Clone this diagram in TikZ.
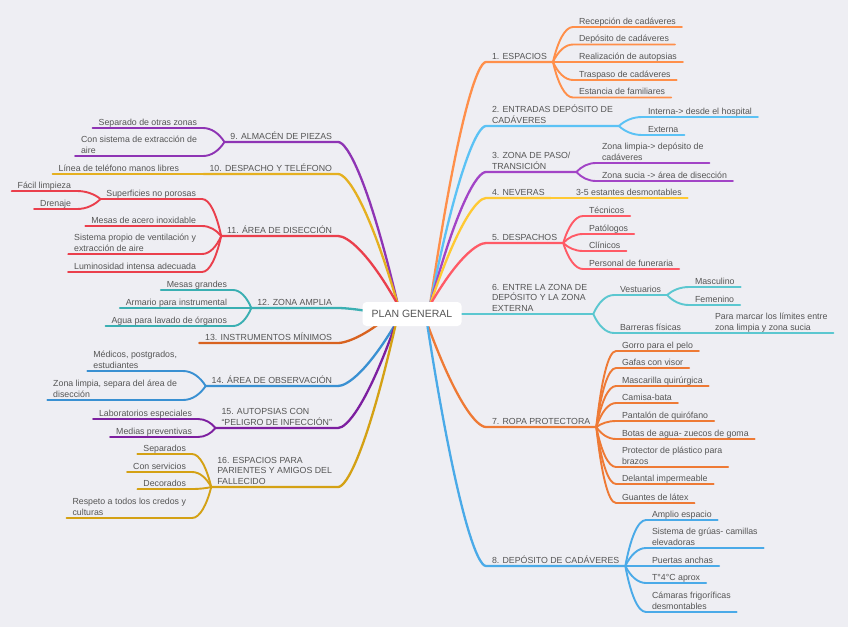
\documentclass[tikz,border=0pt]{standalone}
\usepackage{fontspec}
\setmainfont{Liberation Sans}
\usetikzlibrary{calc,backgrounds}
\definecolor{bg}{HTML}{EEEEF3}
\definecolor{txt}{HTML}{555555}
\definecolor{c1}{HTML}{FF8F4A}
\definecolor{c2}{HTML}{5BC2F5}
\definecolor{c3}{HTML}{A244C6}
\definecolor{c4}{HTML}{FFC933}
\definecolor{c5}{HTML}{FF5A66}
\definecolor{c6}{HTML}{5BC7D0}
\definecolor{c7}{HTML}{EE7A35}
\definecolor{c8}{HTML}{4AAAE8}
\definecolor{c9}{HTML}{8E34B4}
\definecolor{c10}{HTML}{E5B020}
\definecolor{c11}{HTML}{EA3F4C}
\definecolor{c12}{HTML}{3AAFB2}
\definecolor{c13}{HTML}{D8621F}
\definecolor{c14}{HTML}{3990D2}
\definecolor{c15}{HTML}{7D1FA0}
\definecolor{c16}{HTML}{D4A114}
\tikzset{
 lbl/.style={font=\fontsize{8.8}{10.7}\selectfont, text=txt, inner xsep=6pt, inner ysep=2.6pt, outer sep=0pt, text depth=0pt, align=left},
 rt/.style={lbl, anchor=south west},
 lt/.style={lbl, anchor=south east},
 mainline/.style={line width=2.3pt, line cap=round, line join=round},
 subline/.style={line width=1.9pt, line cap=round, line join=round},
 centre/.style={fill=white, rounded corners=4pt, minimum width=99pt, minimum height=24pt, font=\fontsize{10.5}{12}\selectfont, text=txt, inner sep=0pt},
}
% main branch, right side: from centre point #2 to topic node #3
\newcommand\mainR[3]{\draw[mainline,#1] let \p1=(#2), \p2=(#3.south west) in (\p1) .. controls ({(\x1)+0.5*((\x2)-(\x1))},{(\y1)+0.78*((\y2)-(\y1))}) and ({(\x2)-0.15*((\x2)-(\x1))},{\y2}) .. (\p2) -- (#3.south east);}
\newcommand\mainL[3]{\draw[mainline,#1] let \p1=(#2), \p2=(#3.south east) in (\p1) .. controls ({(\x1)+0.5*((\x2)-(\x1))},{(\y1)+0.78*((\y2)-(\y1))}) and ({(\x2)-0.15*((\x2)-(\x1))},{\y2}) .. (\p2) -- (#3.south west);}
% sub branch: from fork #2 to child node #3
\newcommand\subR[3]{\draw[subline,#1] let \p1=(#2), \p2=(#3.south west) in (\p1) .. controls ({(\x1)+0.25*((\x2)-(\x1))},{(\y1)+0.6*((\y2)-(\y1))}) and ({(\x2)-0.4*((\x2)-(\x1))},{\y2}) .. (\p2) -- (#3.south east);}
\newcommand\subL[3]{\draw[subline,#1] let \p1=(#2), \p2=(#3.south east) in (\p1) .. controls ({(\x1)+0.25*((\x2)-(\x1))},{(\y1)+0.6*((\y2)-(\y1))}) and ({(\x2)-0.4*((\x2)-(\x1))},{\y2}) .. (\p2) -- (#3.south west);}
\begin{document}
\begin{tikzpicture}[x=1pt,y=-1pt]
\begin{pgfonlayer}{background}
\fill[bg] (0,0) rectangle (848,627);
\end{pgfonlayer}
\useasboundingbox (0,0) rectangle (848,627);
\node[centre] (center) at (412,314) {PLAN GENERAL};
\coordinate (cTR) at (430,305);
\coordinate (cTL) at (398,305);
\coordinate (cBR) at (427,323);
\coordinate (cBL) at (396,323);
\coordinate (cB13) at (380,323);
\coordinate (cR) at (458,314);
\coordinate (cL) at (367,311);
% ---------- right topics ----------
\node[rt] (t1) at (486,62) {1. ESPACIOS};
\node[rt] (t2) at (486,126) {2. ENTRADAS DEPÓSITO DE\\CADÁVERES};
\node[rt] (t3) at (486,172) {3. ZONA DE PASO/\\TRANSICIÓN};
\node[rt] (t4) at (486,198) {4. NEVERAS};
\node[rt] (t5) at (486,243) {5. DESPACHOS};
\node[rt] (t6) at (486,314) {6. ENTRE LA ZONA DE\\DEPÓSITO Y LA ZONA\\EXTERNA};
\node[rt] (t7) at (486,427) {7. ROPA PROTECTORA};
\node[rt] (t8) at (486,566) {8. DEPÓSITO DE CADÁVERES};
% children right
\node[rt] (a1) at (573,27) {Recepción de cadáveres};
\node[rt] (a2) at (573,44.5) {Depósito de cadáveres};
\node[rt] (a3) at (573,62) {Realización de autopsias};
\node[rt] (a4) at (573,80) {Traspaso de cadáveres};
\node[rt] (a5) at (573,97.5) {Estancia de familiares};
\node[rt] (b1) at (642,117) {Interna-> desde el hospital};
\node[rt] (b2) at (642,135) {Externa};
\node[rt] (c1n) at (596,163) {Zona limpia-> depósito de\\cadáveres};
\node[rt] (c2n) at (596,181) {Zona sucia -> área de disección};
\node[rt] (d1) at (570,198) {3-5 estantes desmontables};
\node[rt] (e1) at (583,216) {Técnicos};
\node[rt] (e2) at (583,234) {Patólogos};
\node[rt] (e3) at (583,251) {Clínicos};
\node[rt] (e4) at (583,269) {Personal de funeraria};
\node[rt] (f1) at (614,295) {Vestuarios};
\node[rt] (f11) at (689,287) {Masculino};
\node[rt] (f12) at (689,305) {Femenino};
\node[rt] (f2) at (614,333) {Barreras físicas};
\node[rt] (f21) at (709,333) {Para marcar los límites entre\\zona limpia y zona sucia};
\node[rt] (g1) at (616,351) {Gorro para el pelo};
\node[rt] (g2) at (616,368) {Gafas con visor};
\node[rt] (g3) at (616,386) {Mascarilla quirúrgica};
\node[rt] (g4) at (616,403) {Camisa-bata};
\node[rt] (g5) at (616,421) {Pantalón de quirófano};
\node[rt] (g6) at (616,439) {Botas de agua- zuecos de goma};
\node[rt] (g7) at (616,467) {Protector de plástico para\\brazos};
\node[rt] (g8) at (616,484) {Delantal impermeable};
\node[rt] (g9) at (616,503) {Guantes de látex};
\node[rt] (h1) at (646,520) {Amplio espacio};
\node[rt] (h2) at (646,548) {Sistema de grúas- camillas\\elevadoras};
\node[rt] (h3) at (646,566) {Puertas anchas};
\node[rt] (h4) at (646,583) {T°4°C aprox};
\node[rt] (h5) at (646,612) {Cámaras frigoríficas\\desmontables};
% ---------- left topics ----------
\node[lt] (t9) at (338,142) {9. ALMACÉN DE PIEZAS};
\node[lt] (t10) at (338,174) {10. DESPACHO Y TELÉFONO};
\node[lt] (t11) at (338,236) {11. ÁREA DE DISECCIÓN};
\node[lt] (t12) at (338,308) {12. ZONA AMPLIA};
\node[lt] (t13) at (338,343) {13. INSTRUMENTOS MÍNIMOS};
\node[lt] (t14) at (338,386) {14. ÁREA DE OBSERVACIÓN};
\node[lt] (t15) at (338,428) {15. AUTOPSIAS CON\\“PELIGRO DE INFECCIÓN”};
\node[lt] (t16) at (338,487) {16. ESPACIOS PARA\\PARIENTES Y AMIGOS DEL\\FALLECIDO};
% children left
\node[lt] (i1) at (203,128) {Separado de otras zonas};
\node[lt] (i2) at (203,156) {Con sistema de extracción de\\aire};
\node[lt] (j1) at (185,174) {Línea de teléfono manos libres};
\node[lt] (k1) at (202,199) {Superficies no porosas};
\node[lt] (k11) at (77,191) {Fácil limpieza};
\node[lt] (k12) at (77,209) {Drenaje};
\node[lt] (k2) at (202,226) {Mesas de acero inoxidable};
\node[lt] (k3) at (202,254) {Sistema propio de ventilación y\\extracción de aire};
\node[lt] (k4) at (202,272) {Luminosidad intensa adecuada};
\node[lt] (l1) at (233,290) {Mesas grandes};
\node[lt] (l2) at (233,308) {Armario para instrumental};
\node[lt] (l3) at (233,326) {Agua para lavado de órganos};
\node[lt] (m1) at (183,371) {Médicos, postgrados,\\estudiantes};
\node[lt] (m2) at (183,400) {Zona limpia, separa del área de\\disección};
\node[lt] (n1) at (198,419) {Laboratorios especiales};
\node[lt] (n2) at (198,437) {Medias preventivas};
\node[lt] (p1) at (192,454) {Separados};
\node[lt] (p2) at (192,472) {Con servicios};
\node[lt] (p3) at (192,489) {Decorados};
\node[lt] (p4) at (192,518) {Respeto a todos los credos y\\culturas};
% ---------- connectors ----------
\begin{pgfonlayer}{background}
\mainR{c1}{cTR}{t1}
\foreach \nm in {a1,a2,a3,a4,a5} {\subR{c1}{t1.south east}{\nm}}
\mainR{c2}{cTR}{t2}
\foreach \nm in {b1,b2} {\subR{c2}{t2.south east}{\nm}}
\mainR{c3}{cTR}{t3}
\foreach \nm in {c1n,c2n} {\subR{c3}{t3.south east}{\nm}}
\mainR{c4}{cTR}{t4}
\draw[subline,c4] (t4.south east) -- (d1.south east);
\mainR{c5}{cTR}{t5}
\foreach \nm in {e1,e2,e3,e4} {\subR{c5}{t5.south east}{\nm}}
\mainR{c6}{cR}{t6}
\subR{c6}{t6.south east}{f1}
\subR{c6}{t6.south east}{f2}
\subR{c6}{f1.south east}{f11}
\subR{c6}{f1.south east}{f12}
\draw[subline,c6] (f2.south east) -- (f21.south east);
\mainR{c7}{cBR}{t7}
\foreach \nm in {g1,g2,g3,g4,g5,g6,g7,g8,g9} {\subR{c7}{t7.south east}{\nm}}
\mainR{c8}{cBR}{t8}
\foreach \nm in {h1,h2,h3,h4,h5} {\subR{c8}{t8.south east}{\nm}}
\mainL{c9}{cTL}{t9}
\foreach \nm in {i1,i2} {\subL{c9}{t9.south west}{\nm}}
\mainL{c10}{cTL}{t10}
\draw[subline,c10] (t10.south west) -- (j1.south west);
\mainL{c11}{cTL}{t11}
\foreach \nm in {k1,k2,k3,k4} {\subL{c11}{t11.south west}{\nm}}
\foreach \nm in {k11,k12} {\subL{c11}{k1.south west}{\nm}}
\mainL{c12}{cL}{t12}
\foreach \nm in {l1,l2,l3} {\subL{c12}{t12.south west}{\nm}}
\mainL{c13}{cB13}{t13}
\mainL{c14}{cBL}{t14}
\foreach \nm in {m1,m2} {\subL{c14}{t14.south west}{\nm}}
\mainL{c15}{cBL}{t15}
\foreach \nm in {n1,n2} {\subL{c15}{t15.south west}{\nm}}
\mainL{c16}{cBL}{t16}
\foreach \nm in {p1,p2,p3,p4} {\subL{c16}{t16.south west}{\nm}}
\end{pgfonlayer}
\end{tikzpicture}
\end{document}
